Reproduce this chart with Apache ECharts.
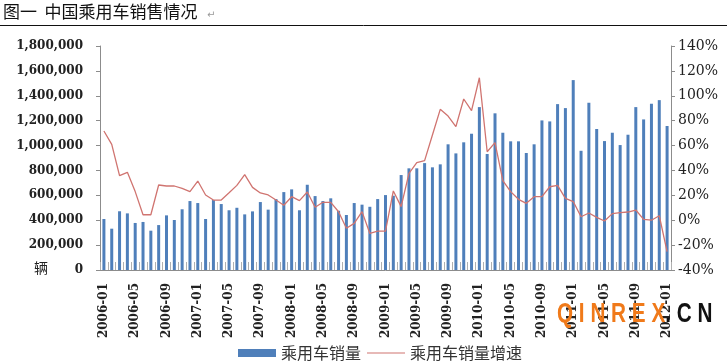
<!DOCTYPE html>
<html>
<head>
<meta charset="utf-8">
<script src="https://cdn.jsdelivr.net/npm/echarts@6/dist/echarts.min.js"></script>
<style>html,body{margin:0;padding:0;background:#fff;}#c{width:727px;height:361px;}</style>
</head>
<body>
<div id="c"></div>
<script>
// categories: monthly 2006-01 .. 2012-01
var categories = [];
for (var y = 2006; y <= 2012; y++) {
  for (var m = 1; m <= 12; m++) {
    if (y === 2012 && m > 1) break;
    categories.push(y + '-' + (m < 10 ? '0' + m : m));
  }
}
var salesName = '乘用车销量';
var growthName = '乘用车销量增速';
var sales = [410000,332000,472000,455000,378000,386000,316000,361000,439000,402000,
  488000,554000,538000,410000,562000,530000,480000,500000,447000,471000,
  546000,485000,570000,626000,648000,480000,685000,594000,554000,576000,
  476000,442000,538000,525000,508000,570000,602000,597000,763000,817000,
  817000,859000,825000,849000,1010000,937000,1026000,1095000,1309000,932000,
  1259000,1103000,1034000,1034000,940000,1010000,1202000,1194000,1333000,1301000,
  1526000,958000,1344000,1133000,1036000,1103000,1004000,1087000,1309000,1210000,
  1336000,1365000,1157000];
var growth = [71.7,61,35.8,38.5,23,4.4,4.4,28.3,27.5,27.5,
  25.6,23,31.5,20.3,16.2,16.2,22,28,36.6,26.4,
  21.9,20.3,16.2,12,18.9,15.7,22.7,10.4,14.4,14.4,
  6.8,-6.5,-2.5,6.9,-10.6,-8.7,-8.7,23.5,10.9,37.7,
  46.3,47.9,68.5,89.1,83.7,75.2,97.4,88,114.5,55,
  62.4,31.8,23,16.8,13.6,18.9,18.9,26.9,28,17.6,
  15,2.8,5.8,2.3,-0.6,5.3,6.1,6.6,8.2,0.7,
  0,3.6,-25.3];
var titleText = '图一  中国乘用车销售情况';

var chart = echarts.init(document.getElementById('c'), null, {renderer: 'canvas'});
var axisCol = '#8c8c8c';
var numFont = 'DejaVu Serif';
var lineColor = '#d07470';
chart.setOption({
  animation: false,
  backgroundColor: '#fff',
  grid: {left: 100, right: 56, top: 46, bottom: 91, containLabel: false},
  legend: {
    left: 233, top: 340,
    itemWidth: 38, itemHeight: 8, itemGap: 6,
    textStyle: {fontFamily: 'Noto Sans CJK SC', fontSize: 16, color: '#333'},
    data: [
      {name: salesName, icon: 'rect'},
      {name: growthName, icon: 'path://M0,0 M0,3.4 L38,3.4 L38,4.6 L0,4.6 Z M38,8', itemStyle: {color: lineColor}}
    ]
  },
  xAxis: {
    type: 'category',
    data: categories,
    boundaryGap: true,
    axisLine: {lineStyle: {color: axisCol, width: 1}},
    axisTick: {show: true, inside: true, length: 8, interval: 0, lineStyle: {color: '#b0b0b0'}},
    axisLabel: {interval: 3, rotate: 90, margin: 13, fontFamily: numFont, fontWeight: 'bold', fontSize: 12, color: '#222'}
  },
  yAxis: [{
    type: 'value', min: 0, max: 1800000, interval: 200000,
    axisLine: {show: true, lineStyle: {color: axisCol}},
    axisTick: {show: true, length: 4, lineStyle: {color: axisCol}},
    splitLine: {show: false},
    axisLabel: {margin: 17, fontFamily: numFont, fontWeight: 'bold', fontSize: 12, color: '#222',
      formatter: function (v) { return v.toString().replace(/\B(?=(\d{3})+(?!\d))/g, ','); }}
  }, {
    type: 'value', min: -40, max: 140, interval: 20,
    axisLine: {show: true, lineStyle: {color: axisCol}},
    axisTick: {show: true, length: 4, lineStyle: {color: axisCol}},
    splitLine: {show: false},
    axisLabel: {margin: 7, fontFamily: numFont, fontSize: 14, color: '#222', formatter: '{value}%'}
  }],
  series: [{
    name: salesName, type: 'bar', data: sales, barWidth: 3, yAxisIndex: 0,
    itemStyle: {color: '#4f7fba'}
  }, {
    name: growthName, type: 'line', data: growth, yAxisIndex: 1,
    symbol: 'none', lineStyle: {color: lineColor, width: 1.3}, itemStyle: {color: lineColor}, z: 3
  }],
  graphic: [
    {type: 'text', left: 3, top: 3, style: {text: titleText, fontFamily: 'Noto Sans CJK SC', fontSize: 17, fill: '#111'}},
    {type: 'text', left: 207, top: 10, style: {text: '↵', fontFamily: 'DejaVu Sans', fontSize: 10, fill: '#999'}},
    {type: 'line', shape: {x1: 0, y1: 25.5, x2: 727, y2: 25.5}, style: {stroke: '#111', lineWidth: 1}},
    {type: 'text', left: 34, top: 261, style: {text: '辆', fontFamily: 'Noto Sans CJK SC', fontSize: 14, fill: '#222'}},
    {type: 'text', x: 557, y: 300, scaleX: 0.74, z: 10, style: {
      text: '{o|Q I N R E X}{k|. C N}',
      rich: {
        o: {fontFamily: 'Liberation Sans', fontWeight: 'bold', fontSize: 28, fill: '#f07a1a'},
        k: {fontFamily: 'Liberation Sans', fontWeight: 'bold', fontSize: 28, fill: '#111'}
      }
    }}
  ]
});
</script>
</body>
</html>
